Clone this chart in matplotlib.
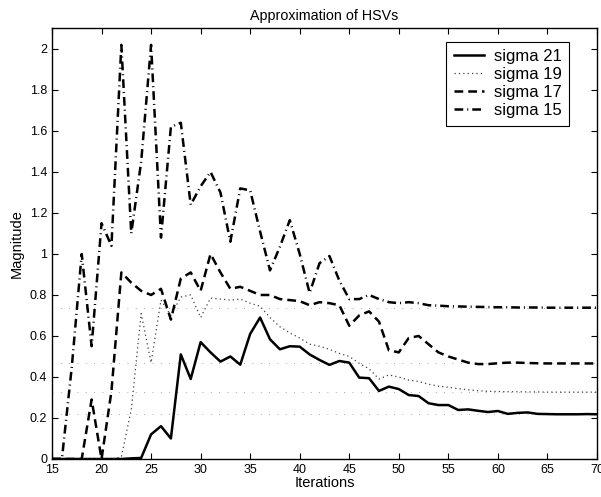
import numpy as np
import matplotlib.pyplot as plt

plt.rcParams['font.family'] = ['Liberation Sans', 'DejaVu Sans']

iterations = list(range(15, 71))

sigma21 = [0, 0, 0, 0, 0, 0, 0, 0, 0.003, 0.005,
           0.12, 0.16, 0.10, 0.51, 0.39, 0.57, 0.52, 0.475, 0.50, 0.46,
           0.61, 0.69, 0.584, 0.535, 0.55, 0.548, 0.51, 0.483, 0.459, 0.478,
           0.47, 0.397, 0.394, 0.332, 0.353, 0.341, 0.312, 0.307, 0.272, 0.263,
           0.263, 0.239, 0.242, 0.235, 0.229, 0.234, 0.22, 0.225, 0.227, 0.22,
           0.219, 0.218, 0.218, 0.218, 0.219, 0.218]

sigma19 = [0, 0, 0, 0, 0, 0, 0, 0.01, 0.24, 0.71,
           0.47, 0.775, 0.70, 0.79, 0.80, 0.69, 0.785, 0.78, 0.775, 0.78,
           0.76, 0.745, 0.69, 0.645, 0.615, 0.59, 0.56, 0.55, 0.535, 0.515,
           0.50, 0.467, 0.44, 0.39, 0.41, 0.40, 0.385, 0.378, 0.365, 0.355,
           0.35, 0.343, 0.338, 0.333, 0.33, 0.329, 0.328, 0.328, 0.327, 0.327,
           0.326, 0.326, 0.326, 0.326, 0.326, 0.326]

sigma17 = [0, 0, 0, 0, 0.29, 0, 0.33, 0.91, 0.86, 0.82,
           0.80, 0.83, 0.68, 0.88, 0.91, 0.82, 1.00, 0.91, 0.83, 0.84,
           0.82, 0.80, 0.80, 0.78, 0.775, 0.77, 0.75, 0.765, 0.76, 0.75,
           0.65, 0.70, 0.72, 0.67, 0.53, 0.52, 0.59, 0.60, 0.56, 0.52,
           0.50, 0.485, 0.47, 0.463, 0.463, 0.467, 0.47, 0.47, 0.468, 0.467,
           0.466, 0.466, 0.466, 0.466, 0.466, 0.466]

sigma15 = [0, 0, 0.45, 1.00, 0.55, 1.15, 1.04, 2.02, 1.10, 1.45,
           2.02, 1.08, 1.62, 1.64, 1.24, 1.33, 1.40, 1.30, 1.06, 1.32,
           1.31, 1.11, 0.92, 1.035, 1.165, 1.00, 0.81, 0.955, 0.99, 0.87,
           0.78, 0.78, 0.80, 0.78, 0.765, 0.76, 0.765, 0.76, 0.75, 0.748,
           0.745, 0.744, 0.743, 0.742, 0.741, 0.740, 0.740, 0.739, 0.739, 0.739,
           0.738, 0.738, 0.738, 0.738, 0.738, 0.738]

hsv_levels = [0.738, 0.466, 0.326, 0.218]

xtick_vals = list(range(15, 71, 5))
ytick_vals = [0, 0.2, 0.4, 0.6, 0.8, 1, 1.2, 1.4, 1.6, 1.8, 2]
ytick_labels = ["0", "0.2", "0.4", "0.6", "0.8", "1", "1.2", "1.4", "1.6", "1.8", "2"]

fig = plt.figure(figsize=(6.01, 4.97), dpi=100)
ax = fig.add_axes([0.0865, 0.0765, 0.9068, 0.8662])

for level in hsv_levels:
    ax.axhline(level, color='0.55', lw=0.6, dashes=(1, 9))

ax.plot(iterations, sigma21, color='black', lw=1.8, label='sigma 21')
ax.plot(iterations, sigma19, color='0.25', lw=0.9, dashes=(1, 2.5), label='sigma 19')
ax.plot(iterations, sigma17, color='black', lw=1.8, dashes=(3.5, 2), label='sigma 17')
ax.plot(iterations, sigma15, color='black', lw=1.8, dashes=(3.5, 1.6, 0.4, 1.6), label='sigma 15')

ax.set_xlim(15, 70)
ax.set_ylim(0, 2.1)
ax.set_xticks(xtick_vals)
ax.set_yticks(ytick_vals)
ax.set_yticklabels(ytick_labels)
ax.tick_params(direction='in', top=True, right=True, labelsize=9, length=4, width=0.8)
for s in ax.spines.values():
    s.set_linewidth(1.0)

ax.set_xlabel('Iterations', fontsize=10.5, labelpad=0)
ax.set_ylabel('Magnitude', fontsize=10.5, labelpad=4)
ax.set_title('Approximation of HSVs', fontsize=10.3, pad=6)

leg = ax.legend(loc='upper right', bbox_to_anchor=(0.949, 0.969), fontsize=12,
                fancybox=False, edgecolor='black', framealpha=1,
                labelspacing=0.18, handlelength=1.8, handletextpad=0.6,
                borderpad=0.45, borderaxespad=0)
leg.get_frame().set_linewidth(0.8)

fig.savefig('out.png', dpi=100)
